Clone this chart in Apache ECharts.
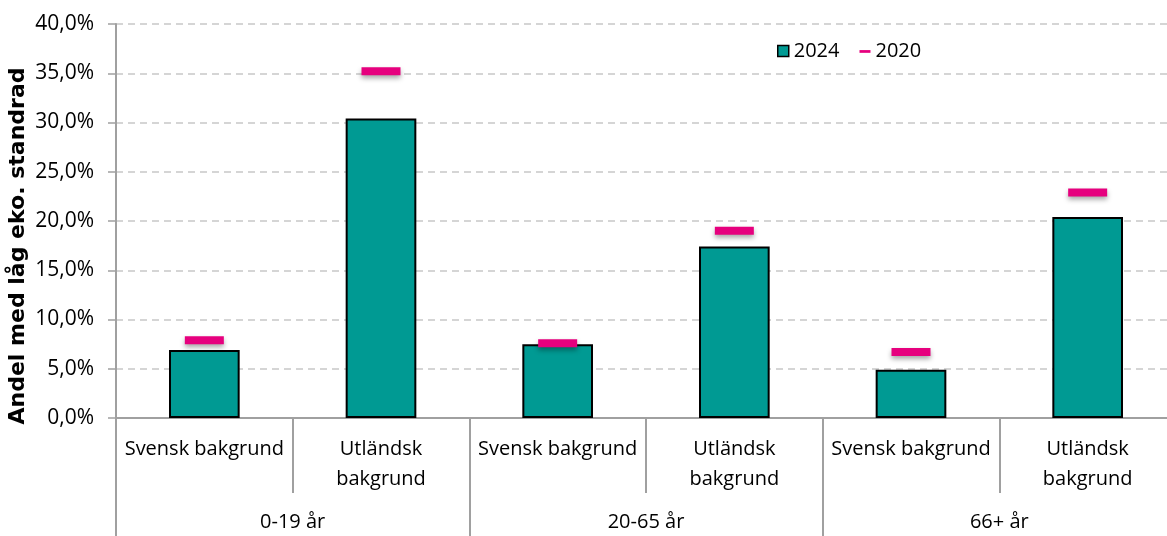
<!DOCTYPE html>
<html>
<head>
<meta charset="utf-8">
<script src="https://cdn.jsdelivr.net/npm/echarts@6/dist/echarts.min.js"></script>
<style>
  html, body { margin: 0; padding: 0; background: #fff; }
  #chart { width: 1167px; height: 536px; }
</style>
</head>
<body>
<div id="chart"></div>
<script>
// subcategories (inner level) and age groups (outer level)
var subCategories = ['Svensk bakgrund', 'Utländsk\nbakgrund', 'Svensk bakgrund', 'Utländsk\nbakgrund', 'Svensk bakgrund', 'Utländsk\nbakgrund']
var groups = ['0-19 år', '20-65 år', '66+ år']
var values2024 = [6.9, 30.4, 7.5, 17.4, 4.9, 20.4]
var values2020 = [7.9, 35.2, 7.6, 19.0, 6.7, 22.9]

var font = 'Open Sans'
var axisGray = '#a0a0a0'

var chart = echarts.init(document.getElementById('chart'))
chart.setOption({
  animation: false,
  textStyle: { fontFamily: font },
  grid: { left: 116, top: 24, height: 394, width: 1060, outerBoundsMode: 'none' },
  legend: {
    top: 36,
    left: 772,
    itemGap: 20,
    itemWidth: 11,
    itemHeight: 11,
    textStyle: { fontFamily: font, fontSize: 20, color: '#000' },
    data: [
      { name: '2024', icon: 'rect', itemStyle: { borderColor: '#000', borderWidth: 1.5 } },
      { name: '2020', icon: 'path://M0,0M12,12M0,5h12v3h-12z' }
    ]
  },
  xAxis: [
    {
      type: 'category',
      data: subCategories,
      axisLine: { lineStyle: { color: axisGray, width: 2 } },
      axisTick: { show: true, length: 75, lineStyle: { color: axisGray, width: 2 } },
      axisLabel: { interval: 0, margin: 16, fontSize: 20, color: '#000', lineHeight: 30, fontFamily: font }
    },
    {
      type: 'category',
      data: groups,
      position: 'bottom',
      axisLine: { show: false },
      axisTick: { show: true, length: 118, lineStyle: { color: axisGray, width: 2 } },
      axisLabel: { interval: 0, margin: 94, fontSize: 20, color: '#000', fontFamily: font }
    }
  ],
  yAxis: {
    type: 'value',
    min: 0,
    max: 40,
    interval: 5,
    axisLine: { show: true, lineStyle: { color: axisGray, width: 2 } },
    axisTick: { show: true, length: 8, lineStyle: { color: axisGray, width: 1.5 } },
    axisLabel: {
      fontSize: 21,
      color: '#000',
      margin: 22,
      fontFamily: font,
      formatter: function (v) { return v.toFixed(1).replace('.', ',') + '%' }
    },
    splitLine: { lineStyle: { color: '#c8c8c8', type: [7, 5], width: 1.5 } }
  },
  graphic: [
    {
      type: 'text',
      x: 18,
      y: 246,
      rotation: Math.PI / 2,
      style: {
        text: 'Andel med låg eko. standrad',
        font: 'bold 22px "DejaVu Sans"',
        fill: '#000',
        align: 'center',
        verticalAlign: 'middle'
      }
    }
  ],
  series: [
    {
      name: '2024',
      type: 'bar',
      data: values2024,
      barWidth: '40%',
      itemStyle: { color: '#009A93', borderColor: '#000', borderWidth: 2 }
    },
    {
      name: '2020',
      type: 'scatter',
      data: values2020,
      symbol: 'rect',
      symbolSize: [39, 8],
      z: 3,
      itemStyle: {
        color: '#E6007E',
        opacity: 1,
        shadowBlur: 5,
        shadowColor: 'rgba(0,0,0,0.35)',
        shadowOffsetY: 3
      }
    }
  ]
})
</script>
</body>
</html>
